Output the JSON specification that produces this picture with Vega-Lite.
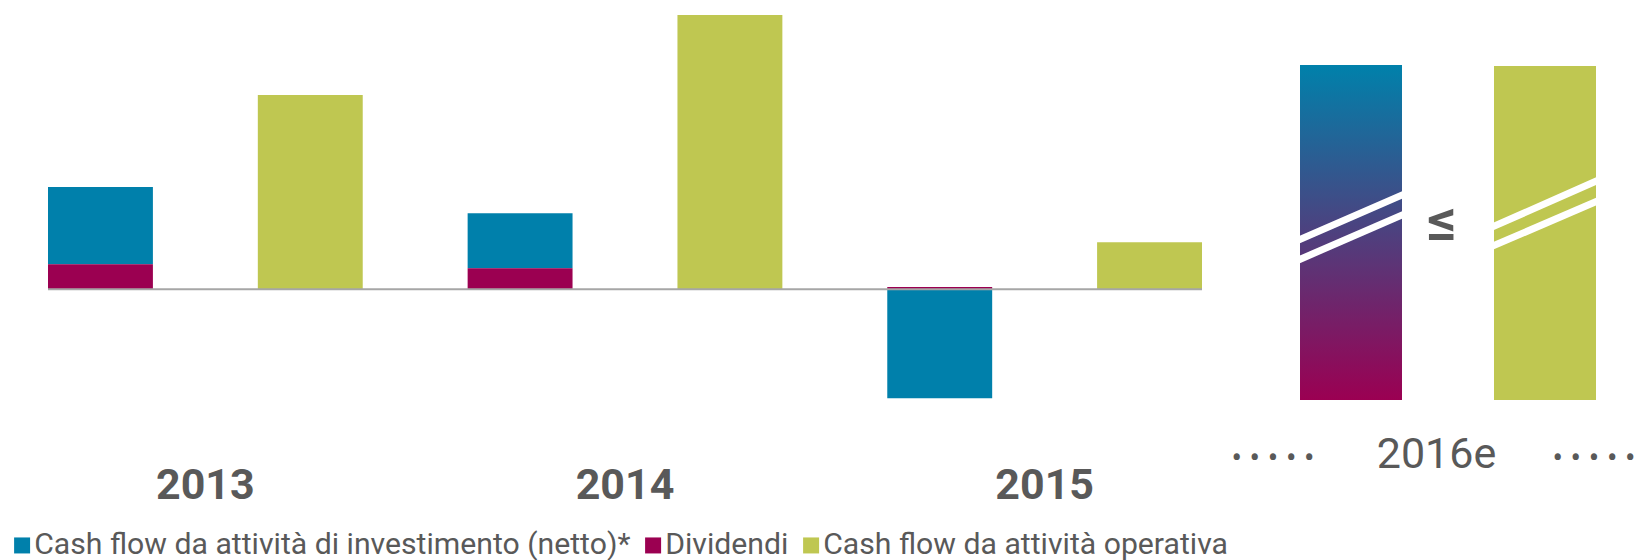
{
  "$schema": "https://vega.github.io/schema/vega-lite/v6.json",
  "background": "white",
  "padding": {"left": 7, "top": 0, "right": 0, "bottom": 0},
  "autosize": {"type": "pad"},
  "bounds": "flush",
  "spacing": 98,
  "config": {"view": {"stroke": null}, "font": "Roboto"},
  "datasets": {
    "flussi": [
      {"anno": "2013", "gruppo": "uscite", "serie": "Cash flow da attività di investimento (netto)*", "valore": 3.87},
      {"anno": "2013", "gruppo": "uscite", "serie": "Dividendi", "valore": 1.25},
      {"anno": "2013", "gruppo": "entrate", "serie": "Cash flow da attività operativa", "valore": 9.72},
      {"anno": "2014", "gruppo": "uscite", "serie": "Cash flow da attività di investimento (netto)*", "valore": 2.75},
      {"anno": "2014", "gruppo": "uscite", "serie": "Dividendi", "valore": 1.05},
      {"anno": "2014", "gruppo": "entrate", "serie": "Cash flow da attività operativa", "valore": 13.72},
      {"anno": "2015", "gruppo": "uscite", "serie": "Cash flow da attività di investimento (netto)*", "valore": -5.45},
      {"anno": "2015", "gruppo": "uscite", "serie": "Dividendi", "valore": 0.12},
      {"anno": "2015", "gruppo": "entrate", "serie": "Cash flow da attività operativa", "valore": 2.35}
    ],
    "stima": [
      {"anno": "2016e", "gruppo": "uscite", "valore": 16.75},
      {"anno": "2016e", "gruppo": "entrate", "valore": 16.7}
    ],
    "tagli": [
      {"gruppo": "uscite", "da": 8.025, "a": 10.25},
      {"gruppo": "uscite", "da": 7.035, "a": 9.25},
      {"gruppo": "entrate", "da": 8.69, "a": 10.94},
      {"gruppo": "entrate", "da": 7.725, "a": 9.915}
    ],
    "puntini": [
      {"testo": "•\u00a0•\u00a0•\u00a0•\u00a0•"}
    ]
  },
  "resolve": {"scale": {"x": "independent", "y": "independent"}},
  "hconcat": [
    {
      "width": 1154,
      "height": 400,
      "layer": [
        {
          "data": {"name": "flussi"},
          "mark": {"type": "bar"},
          "encoding": {
            "x": {
              "field": "anno", "type": "nominal",
              "scale": {"paddingInner": 0.25, "paddingOuter": 0},
              "axis": {"title": null, "domain": false, "ticks": false, "grid": false, "labelAngle": 0,
                       "labelFont": "Roboto", "labelFontWeight": "bold", "labelFontSize": 43,
                       "labelColor": "#595959", "labelPadding": 98, "labelBaseline": "alphabetic"}
            },
            "xOffset": {
              "field": "gruppo", "type": "nominal",
              "scale": {"domain": ["uscite", "entrate"], "paddingInner": 0.5, "paddingOuter": 0}
            },
            "y": {
              "field": "valore", "type": "quantitative", "stack": "zero",
              "scale": {"domain": [-5.535, 14.465], "nice": false, "zero": false},
              "axis": null
            },
            "color": {
              "field": "serie", "type": "nominal",
              "scale": {
                "domain": ["Cash flow da attività di investimento (netto)*", "Dividendi", "Cash flow da attività operativa"],
                "range": ["#0080ab", "#9b0051", "#bfc751"]
              },
              "legend": {
                "title": null, "orient": "none", "legendX": -41, "legendY": 530,
                "direction": "horizontal", "symbolType": "square", "symbolSize": 256,
                "symbolStrokeWidth": 0, "symbolOpacity": 1, "labelFont": "Roboto", "labelFontSize": 30.2,
                "labelColor": "#595959", "labelOffset": -3, "columnPadding": 7, "labelLimit": 0, "padding": 0
              }
            },
            "order": {"field": "serie", "sort": "descending"}
          }
        },
        {
          "data": {"values": [{}]},
          "mark": {"type": "rule", "color": "#a6a6a6", "strokeWidth": 2},
          "encoding": {"y": {"datum": 0, "type": "quantitative"}}
        }
      ]
    },
    {
      "width": 296,
      "height": 400,
      "layer": [
        {
          "data": {"name": "stima"},
          "transform": [{"filter": "datum.gruppo == 'uscite'"}],
          "mark": {
            "type": "bar",
            "color": {"gradient": "linear", "x1": 0, "y1": 0, "x2": 0, "y2": 1,
                      "stops": [{"offset": 0, "color": "#0081ab"}, {"offset": 1, "color": "#9b0052"}]}
          },
          "encoding": {
            "x": {
              "field": "gruppo", "type": "nominal",
              "scale": {"domain": ["uscite", "entrate"], "paddingInner": 0.4742, "paddingOuter": 0},
              "axis": {"title": null, "domain": false, "ticks": false, "grid": false, "labelAngle": 0,
                       "labelFont": "Roboto", "labelFontWeight": "normal", "labelFontSize": 43,
                       "labelColor": "#595959", "labelPadding": 67.5, "labelBaseline": "alphabetic",
                       "labelLimit": 0, "labelOffset": -108.5,
                       "labelExpr": "datum.value == 'entrate' ? '2016e' : ''"}
            },
            "y": {"field": "valore", "type": "quantitative", "scale": {"domain": [0, 20], "nice": false}, "axis": null}
          }
        },
        {
          "data": {"name": "stima"},
          "transform": [{"filter": "datum.gruppo == 'entrate'"}],
          "mark": {"type": "bar", "color": "#bfc751"},
          "encoding": {
            "x": {"field": "gruppo", "type": "nominal"},
            "y": {"field": "valore", "type": "quantitative"}
          }
        },
        {
          "data": {"name": "tagli"},
          "mark": {"type": "rule", "color": "white", "strokeWidth": 7, "strokeCap": "square"},
          "encoding": {
            "x": {"field": "gruppo", "type": "nominal", "bandPosition": 0},
            "x2": {"field": "gruppo", "bandPosition": 1},
            "y": {"field": "da", "type": "quantitative"},
            "y2": {"field": "a"}
          }
        },
        {
          "data": {"values": [{"simbolo": "≤"}]},
          "mark": {"type": "text", "font": "Roboto", "fontWeight": "bold", "fontSize": 58, "color": "#595959",
                   "dx": 40, "baseline": "middle", "align": "center"},
          "encoding": {
            "x": {"datum": "uscite", "type": "nominal", "bandPosition": 1},
            "y": {"datum": 8.85, "type": "quantitative"},
            "text": {"field": "simbolo"}
          }
        },
        {
          "data": {"name": "puntini"},
          "mark": {"type": "text", "font": "Roboto", "fontSize": 31, "color": "#595959",
                   "dx": -27, "baseline": "middle", "align": "center"},
          "encoding": {
            "x": {"datum": "uscite", "type": "nominal", "bandPosition": 0},
            "y": {"datum": -2.95, "type": "quantitative"},
            "text": {"field": "testo"}
          }
        },
        {
          "data": {"name": "puntini"},
          "mark": {"type": "text", "font": "Roboto", "fontSize": 31, "color": "#595959",
                   "dx": -2, "baseline": "middle", "align": "center"},
          "encoding": {
            "x": {"datum": "entrate", "type": "nominal", "bandPosition": 1},
            "y": {"datum": -2.95, "type": "quantitative"},
            "text": {"field": "testo"}
          }
        }
      ]
    }
  ]
}
